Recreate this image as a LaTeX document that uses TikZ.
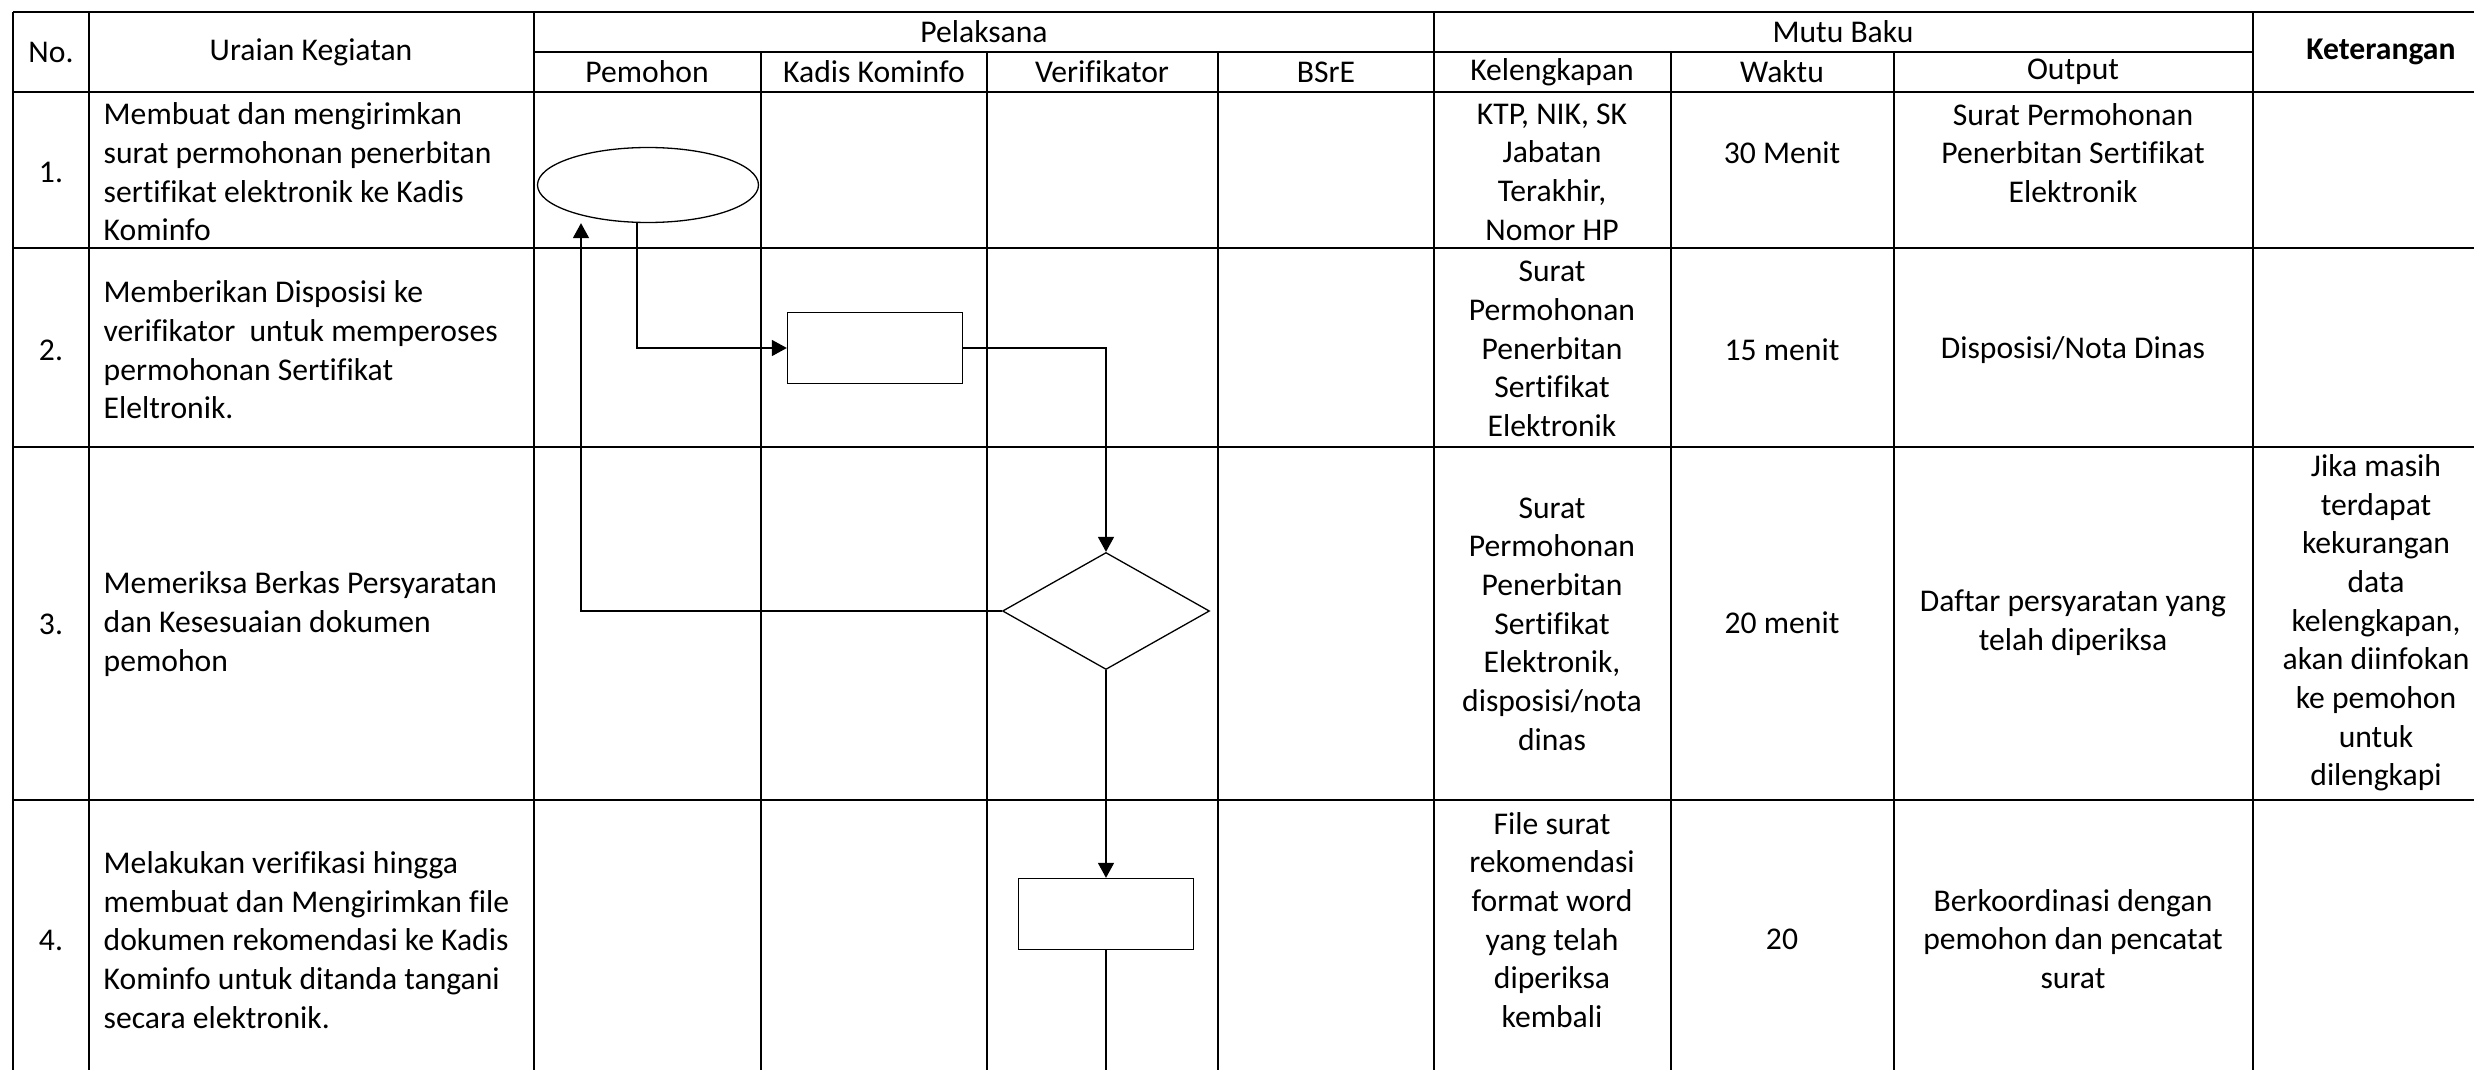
\documentclass[tikz,border=0pt]{standalone}
\usepackage{fontspec}
\setmainfont{Carlito}[Ligatures=CommonOff]
\usetikzlibrary{positioning,arrows.meta,shapes.geometric,calc}

\begin{document}
\begin{tikzpicture}[
    x=0.1mm, y=-0.1mm,
    font=\fontsize{9}{11}\selectfont,
    >={Triangle[length=1.5mm, width=1.6mm]},
    every node/.style={align=center, inner sep=0pt},
    rowline/.style={line width=0.18mm},
    colline/.style={line width=0.17mm},
    task/.style={anchor=west, align=left},
    terminal/.style={draw, ellipse, line width=0.13mm, minimum width=22.1mm, minimum height=7.5mm},
    process/.style={draw, rectangle, line width=0.13mm, minimum width=17.5mm, minimum height=7.1mm},
    decision/.style={draw, diamond, line width=0.13mm, minimum width=20.7mm, minimum height=11.7mm},
    arrow/.style={->, line width=0.15mm}
]
\useasboundingbox (0,0) rectangle (2474,1070);
\clip (0,0) rectangle (2474,1070);

% Table frame: rows
\draw[rowline] (13,12) -- (2520,12);
\draw[rowline] (13,92) -- (2520,92);
\draw[rowline] (13,248) -- (2520,248);
\draw[rowline] (13,447) -- (2520,447);
\draw[rowline] (13,800) -- (2520,800);
\draw[rowline] (13,1080) -- (2520,1080);
\draw[colline] (534,52) -- (2253,52);

% Table frame: columns
\draw[rowline] (13,12) -- (13,1080);
\draw[colline] (89,12) -- (89,1080);
\draw[colline] (534,12) -- (534,1080);
\draw[colline] (761,52) -- (761,1080);
\draw[colline] (987,52) -- (987,1080);
\draw[colline] (1218,52) -- (1218,1080);
\draw[colline] (1434,12) -- (1434,1080);
\draw[colline] (1671,52) -- (1671,1080);
\draw[colline] (1894,52) -- (1894,1080);
\draw[colline] (2253,12) -- (2253,1080);
\draw[colline] (2509,12) -- (2509,1080);

% Header
\node (hno) at (51,52) {No.};
\node (hura) at (311,52) {Uraian Kegiatan};
\node (hpel) at (984,32) {Pelaksana};
\node (hmutu) at (1843,32) {Mutu Baku};
\node[font=\fontsize{9}{11}\selectfont\bfseries] (hket) at (2381,52) {Keterangan};
\node (hpem) at (647,72) {Pemohon};
\node (hkadis) at (874,72) {Kadis Kominfo};
\node (hver) at (1102,72) {Verifikator};
\node (hbsre) at (1326,72) {BSrE};
\node (hkel) at (1552,72) {Kelengkapan};
\node (hwaktu) at (1782,72) {Waktu};
\node (hout) at (2073,72) {Output};

% Row 1
\node (no1) at (51,172) {1.};
\node[task] (ura1) at (103,172) {Membuat dan mengirimkan\\surat permohonan penerbitan\\sertifikat elektronik ke Kadis\\Kominfo};
\node (kel1) at (1552,172) {KTP, NIK, SK\\Jabatan\\Terakhir,\\Nomor HP};
\node (waktu1) at (1782,153) {30 Menit};
\node (out1) at (2073,153) {Surat Permohonan\\Penerbitan Sertifikat\\Elektronik};

% Row 2
\node (no2) at (51,350) {2.};
\node[task] (ura2) at (103,350) {Memberikan Disposisi ke\\verifikator\ \ untuk memperoses\\permohonan Sertifikat\\Eleltronik.};
\node (kel2) at (1552,349) {Surat\\Permohonan\\Penerbitan\\Sertifikat\\Elektronik};
\node (waktu2) at (1782,350) {15 menit};
\node (out2) at (2073,350) {Disposisi/Nota Dinas};

% Row 3
\node (no3) at (51,624) {3.};
\node[task] (ura3) at (103,624) {Memeriksa Berkas Persyaratan\\dan Kesesuaian dokumen\\pemohon};
\node (kel3) at (1552,624) {Surat\\Permohonan\\Penerbitan\\Sertifikat\\Elektronik,\\disposisi/nota\\dinas};
\node (waktu3) at (1782,623) {20 menit};
\node (out3) at (2073,623) {Daftar persyaratan yang\\telah diperiksa};
\node (ket3) at (2376,623) {Jika masih\\terdapat\\kekurangan\\data\\kelengkapan,\\akan diinfokan\\ke pemohon\\untuk\\dilengkapi};

% Row 4
\node (no4) at (51,940) {4.};
\node[task] (ura4) at (103,940) {Melakukan verifikasi hingga\\membuat dan Mengirimkan file\\dokumen rekomendasi ke Kadis\\Kominfo untuk ditanda tangani\\secara elektronik.};
\node (kel4) at (1552,920) {File surat\\rekomendasi\\format word\\yang telah\\diperiksa\\kembali};
\node (waktu4) at (1782,939) {20};
\node (out4) at (2073,939) {Berkoordinasi dengan\\pemohon dan pencatat\\surat};

% Flow
\node[terminal] (start) at (648,185) {};
\node[process] (disp) at (875,348) {};
\node[decision] (cek) at (1106,611) {};
\node[process] (kirim) at (1106,914) {};
\coordinate (lanjut) at (1106,1080);

\draw[arrow] ([xshift=-1.1mm]start.south) |- (disp.west);
\draw[arrow] (disp.east) -| (cek.north);
\draw[arrow, line width=0.17mm] (cek.west) -| ([xshift=-6.7mm]start.south);
\draw[arrow] (cek.south) -- (kirim.north);
\draw[line width=0.15mm] (kirim.south) -- (lanjut);
\end{tikzpicture}
\end{document}
